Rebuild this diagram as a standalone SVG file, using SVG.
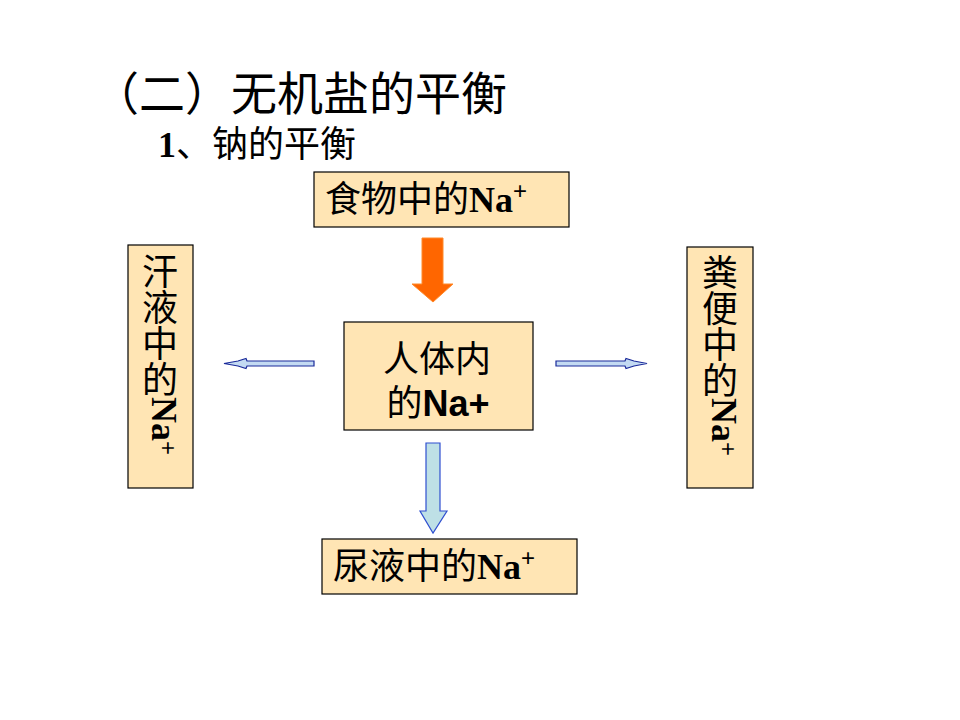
<svg xmlns="http://www.w3.org/2000/svg" width="960" height="720" viewBox="0 0 960 720">
<style>
.box{fill:#FFE5B4;stroke:#000;stroke-width:1.2}
.cjk{font-family:"Noto Sans CJK SC","Noto Sans",sans-serif;fill:#000}
.nab{font-family:"Liberation Serif","Times New Roman",serif;font-weight:bold}
.sup{font-family:"Liberation Sans",Arial,sans-serif;font-weight:normal}
.vert{writing-mode:vertical-rl}
.harrow{fill:#C3DAF2;stroke:#1A2A9A;stroke-width:1.2}
</style>
<rect width="960" height="720" fill="#fff"/>
<g id="title">
<text class="cjk" x="93" y="110" font-size="46">（二）无机盐的平衡</text>
<text class="cjk" x="158" y="157" font-size="36"><tspan class="nab">1</tspan>、钠的平衡</text>
</g>
<g id="food">
<rect class="box" x="314" y="172" width="255" height="55"/>
<text class="cjk" x="325" y="212" font-size="36">食物中的<tspan class="nab">Na</tspan><tspan class="sup" font-size="24" dy="-13">+</tspan></text>
</g>
<g id="body">
<rect class="box" x="344" y="322" width="189" height="108"/>
<text class="cjk" x="437" y="372" font-size="36" text-anchor="middle">人体内</text>
<text class="cjk" x="438" y="416" font-size="36" text-anchor="middle">的<tspan font-family="Liberation Sans,Arial,sans-serif" font-weight="bold">Na+</tspan></text>
</g>
<g id="sweat">
<rect class="box" x="128" y="245" width="65" height="243"/>
<text class="cjk vert" x="160" y="253" font-size="36">汗液中的<tspan class="nab" dx="4">Na</tspan><tspan class="sup" font-size="24" dx="4">+</tspan></text>
</g>
<g id="feces">
<rect class="box" x="687" y="247" width="66" height="241"/>
<text class="cjk vert" x="720" y="254" font-size="36">粪便中的<tspan class="nab" dx="4">Na</tspan><tspan class="sup" font-size="24" dx="4">+</tspan></text>
</g>
<g id="urine">
<rect class="box" x="322" y="539" width="255" height="55"/>
<text class="cjk" x="333" y="579" font-size="36">尿液中的<tspan class="nab">Na</tspan><tspan class="sup" font-size="24" dy="-13">+</tspan></text>
</g>
<g id="connectors">
<polygon points="422,238 443,238 443,284 453,284 433,302 412,284 422,284" fill="#FF6600" stroke="#FF8A2A" stroke-width="1"/>
<polygon points="426,443 440,443 440,511 447,511 433,533 420,511 426,511" fill="#BEE0E6" stroke="#2F4FD0" stroke-width="1.2"/>
<polygon class="harrow" points="314,361 247,361 246,358.5 238,361 224,363.5 238,366 246,368.5 247,366 314,366"/>
<polygon class="harrow" points="556,361 625,361 626,358.5 634,361 647,363.5 634,366 626,368.5 625,366 556,366"/>
</g>
</svg>
